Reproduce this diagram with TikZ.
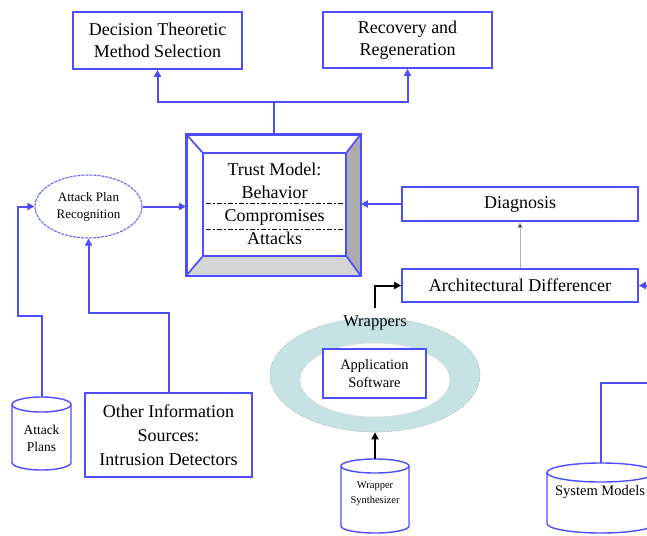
\documentclass[tikz,border=0pt]{standalone}
\usepackage{fontspec}
\setmainfont{Liberation Serif}
\usetikzlibrary{arrows.meta,shapes.geometric}
\definecolor{bl}{RGB}{77,77,255}
\definecolor{ringc}{RGB}{198,226,229}
\newcommand\drawcyl[6]{%
  \fill[white] (#2-#5,#3+#6) -- (#2-#5,#4-#6) arc[start angle=180,end angle=360,x radius=#5pt,y radius=#6pt] -- (#2+#5,#3+#6) -- cycle;
  \draw[cyl] (#2-#5,#3+#6) -- (#2-#5,#4-#6) arc[start angle=180,end angle=360,x radius=#5pt,y radius=#6pt] -- (#2+#5,#3+#6);
  \draw[cyl,fill=white] (#2,#3+#6) ellipse [x radius=#5pt,y radius=#6pt];
  \coordinate (#1-top) at (#2,#3);}
\begin{document}
\begin{tikzpicture}[x=1pt,y=-1pt,
  box/.style={draw=bl,line width=1.7pt,fill=white,inner sep=0pt,align=center,font=\fontsize{18}{22}\selectfont},
  arr/.style={draw=bl,line width=2pt,-{Triangle[length=7pt,width=7pt]}},
  bline/.style={draw=bl,line width=2pt},
  barr/.style={draw=black,line width=2pt,-{Triangle[length=7pt,width=7pt]}},
  garr/.style={draw=gray!60,line width=1pt,-{Triangle[length=6pt,width=5.5pt,fill=black]}},
  cyl/.style={draw=bl,line width=1.4pt},
  ddline/.style={draw=black,line width=0.9pt,dash pattern=on 5pt off 2pt on 2pt off 2pt},
]
\useasboundingbox (0,0) rectangle (647,535);

% top boxes
\node[box,minimum width=169pt,minimum height=57pt] (dec) at (157.5,40.5) {Decision Theoretic\\Method Selection};
\node[box,minimum width=169pt,minimum height=56pt] (rec) at (407.5,40) {Recovery and\\Regeneration};

% trust model bevel box
\node[draw=bl,line width=1.7pt,fill=white,minimum width=173pt,minimum height=140pt,inner sep=0pt] (trust) at (273.5,205) {};
\fill[gray!65] (360,135) -- (360,275) -- (346,256) -- (346,153) -- cycle;
\fill[gray!33] (187,275) -- (360,275) -- (346,256) -- (203,256) -- cycle;
\draw[draw=bl,line width=1.7pt] (trust.north west) rectangle (trust.south east);
\node[draw=bl,line width=1.7pt,fill=white,minimum width=143pt,minimum height=103pt,inner sep=0pt] (tmi) at (274.5,204.5) {};
\draw[draw=bl,line width=1.7pt] (trust.north west) -- (tmi.north west) (trust.north east) -- (tmi.north east)
  (trust.south east) -- (tmi.south east) (trust.south west) -- (tmi.south west);
\node[align=center,font=\fontsize{18}{23}\selectfont] (tmt) at (274.5,204) {Trust Model:\\Behavior\\Compromises\\Attacks};
\draw[ddline] (206,203) -- (343,203);
\draw[ddline] (206,229) -- (343,229);

% attack plan recognition
\node[ellipse,draw=bl!85,line width=1.1pt,dash pattern=on 3pt off 1pt,fill=white,minimum width=107pt,minimum height=63pt,inner sep=0pt,align=center,font=\fontsize{13}{17}\selectfont] (apr) at (88.5,206.5) {Attack Plan\\Recognition};

% other information
\node[box,minimum width=167pt,minimum height=84pt,font=\fontsize{18}{24}\selectfont] (oi) at (168.5,435) {Other Information\\Sources:\\Intrusion Detectors};

% diagnosis, differencer
\node[box,minimum width=236pt,minimum height=34pt] (diag) at (520,204) {Diagnosis};
\node[box,minimum width=236pt,minimum height=33pt] (ad) at (520,285.5) {Architectural Differencer};

% wrappers ring
\node[ellipse,fill=ringc,draw=ringc!70!gray,line width=0.6pt,dash pattern=on 2pt off 1pt,minimum width=210pt,minimum height=114pt,inner sep=0pt] (ring) at (375,375) {};
\node[ellipse,fill=white,draw=gray!30,line width=0.5pt,minimum width=150pt,minimum height=74pt,inner sep=0pt] (hole) at (375,380) {};
\node[font=\fontsize{16.5}{17}\selectfont,inner sep=1pt] (wl) at (375,323) {Wrappers};
\node[box,line width=1.4pt,minimum width=103pt,minimum height=49pt,font=\fontsize{14.5}{18}\selectfont] (app) at (374.5,373.5) {Application\\Software};

% cylinders
\drawcyl{apc}{41.5}{397}{470}{29.5}{7.5}
\node[align=center,font=\fontsize{13.5}{17}\selectfont] (ap) at (41.5,438) {Attack\\Plans};
\drawcyl{wsc}{375}{459}{533}{34}{7}
\node[align=center,font=\fontsize{10.5}{15}\selectfont] (ws) at (375,494) {Wrapper\\Synthesizer};
\drawcyl{smc}{601}{463}{533}{54}{9.5}
\node[font=\fontsize{14.5}{17}\selectfont] (sm) at (600,492) {System Models};

% connectors
\draw[bline] (trust.north) -- ++(0,-32) coordinate (tj);
\draw[arr] (tj) -| (dec.south);
\draw[arr] (tj) -| (rec.south);
\draw[arr] (apr.east) -- (apr.east -| trust.west);
\draw[arr] (diag.west) -- (diag.west -| trust.east);
\draw[arr] (apc-top) -- (41.5,316) -- (18,316) |- (apr.west);
\draw[arr] (oi.north) -- (168.5,313) -| (apr.south);
\draw[garr] (ad.north) -- (diag.south);
\draw[barr] (375,308) |- (ad.west);
\draw[barr] (wsc-top) -- (ring.south);
\coordinate (adin) at (650,285.5);
\draw[arr] (adin) -- (ad.east);
\coordinate (smin) at (650,383);
\draw[bline] (smin) -| (smc-top);
\end{tikzpicture}
\end{document}
